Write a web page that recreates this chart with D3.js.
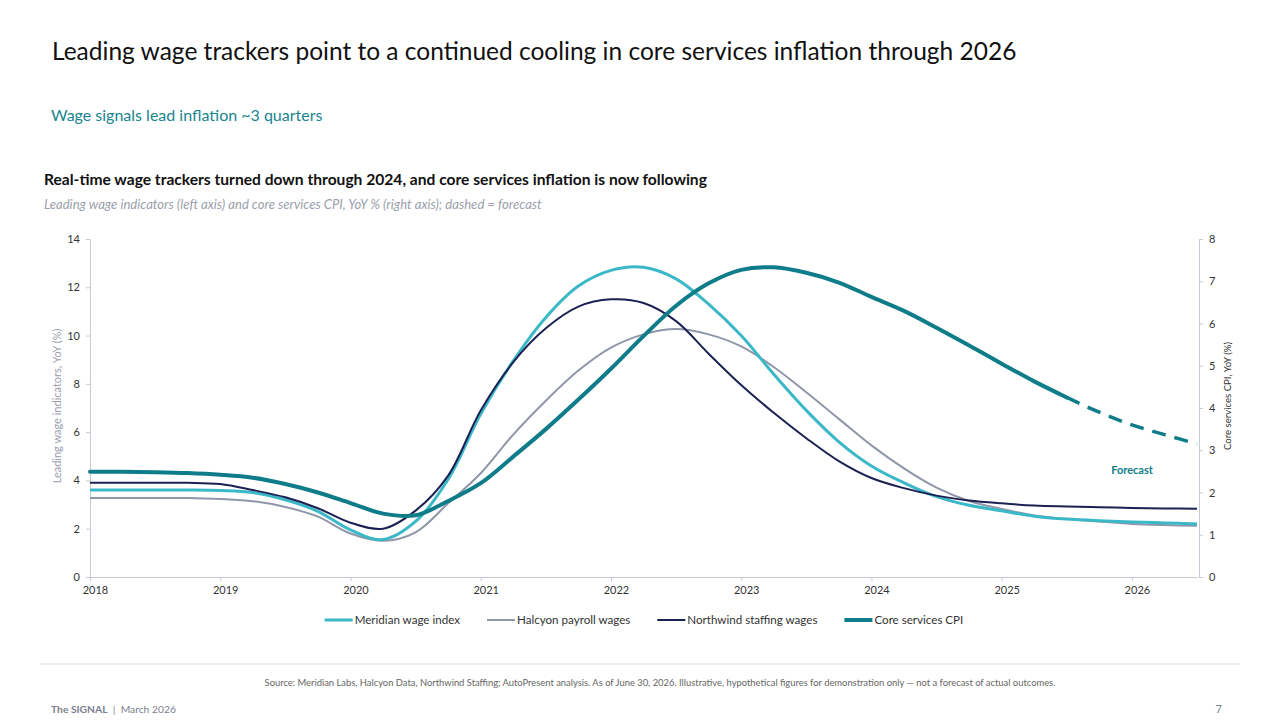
<!DOCTYPE html>
<html>
<head>
<meta charset="utf-8">
<script src="https://cdn.jsdelivr.net/npm/d3@7"></script>
<style>
  body { margin: 0; background: #fff; }
  svg { display: block; font-family: Lato, "Open Sans", sans-serif; }
</style>
</head>
<body>
<div id="chart"></div>
<script>
// quarterly time points 2018 .. 2026.5
const quarters = d3.range(0, 35).map(i => 2018 + i * 0.25);

const meridian = [3.6, 3.6, 3.6, 3.6, 3.58, 3.5, 3.2, 2.72, 1.95, 1.55, 2.3, 4.05, 6.75, 8.95, 10.75, 12.05,
  12.7, 12.83, 12.35, 11.3, 10.0, 8.4, 6.9, 5.6, 4.6, 3.9, 3.33, 2.97, 2.74, 2.52, 2.4, 2.33, 2.28, 2.24, 2.2];
const halcyon = [3.27, 3.27, 3.27, 3.27, 3.23, 3.14, 2.9, 2.5, 1.8, 1.5, 1.85, 3.05, 4.3, 5.9, 7.3, 8.55,
  9.5, 10.05, 10.27, 10.05, 9.55, 8.7, 7.65, 6.55, 5.45, 4.5, 3.7, 3.15, 2.82, 2.55, 2.4, 2.3, 2.2, 2.15, 2.12];
const northwind = [3.9, 3.9, 3.9, 3.9, 3.85, 3.6, 3.3, 2.85, 2.25, 2.0, 2.75, 4.2, 6.9, 8.9, 10.3, 11.2,
  11.5, 11.35, 10.6, 9.25, 7.95, 6.8, 5.75, 4.8, 4.1, 3.68, 3.37, 3.17, 3.05, 2.96, 2.92, 2.89, 2.86, 2.84, 2.83];
// core services CPI, right axis; from 2025.5 on it is forecast
const coreCPI = [2.49, 2.49, 2.48, 2.46, 2.42, 2.35, 2.2, 2.0, 1.75, 1.5, 1.46, 1.8, 2.22, 2.85, 3.5, 4.2,
  4.93, 5.7, 6.42, 6.95, 7.27, 7.33, 7.2, 6.97, 6.63, 6.3, 5.9, 5.48, 5.05, 4.63, 4.25, 3.9, 3.6, 3.37, 3.15];
const forecastStart = 2025.5;

const years = [2018, 2019, 2020, 2021, 2022, 2023, 2024, 2025, 2026];
const leftTicks = [0, 2, 4, 6, 8, 10, 12, 14];
const rightTicks = [0, 1, 2, 3, 4, 5, 6, 7, 8];

const seriesNames = ["Meridian wage index", "Halcyon payroll wages", "Northwind staffing wages", "Core services CPI"];
const colors = ["#3bb8c8", "#8f96a8", "#1b2152", "#0f7c8a"];
const widths = [3, 2, 2, 4];

const W = 1280, H = 720;
const svg = d3.select("#chart").append("svg").attr("width", W).attr("height", H);

// headings
svg.append("text").attr("x", 52).attr("y", 60).attr("font-size", 24.5).attr("fill", "#111")
  .text("Leading wage trackers point to a continued cooling in core services inflation through 2026");
svg.append("text").attr("x", 51).attr("y", 121).attr("font-size", 16).attr("fill", "#17858f")
  .text("Wage signals lead inflation ~3 quarters");
svg.append("text").attr("x", 44).attr("y", 185).attr("font-size", 15.6).attr("font-weight", "bold").attr("fill", "#111")
  .text("Real-time wage trackers turned down through 2024, and core services inflation is now following");
svg.append("text").attr("x", 44).attr("y", 209).attr("font-size", 13.1).attr("font-style", "italic").attr("fill", "#9aa0ac")
  .text("Leading wage indicators (left axis) and core services CPI, YoY % (right axis); dashed = forecast");

// scales
const x = d3.scaleLinear().domain([2018, 2026.5]).range([90, 1197]);
const yL = d3.scaleLinear().domain([0, 14]).range([577, 239]);
const yR = d3.scaleLinear().domain([0, 8]).range([577, 239]);

const axisColor = "#c5cad3";

const gx = svg.append("g").attr("transform", "translate(0,577)")
  .call(d3.axisBottom(x).tickValues(years).tickFormat(d3.format("d")).tickSize(4).tickSizeOuter(0));
gx.selectAll("text").attr("dx", 5).attr("dy", 10);

const gl = svg.append("g").attr("transform", "translate(90,0)")
  .call(d3.axisLeft(yL).tickValues(leftTicks).tickSize(4).tickSizeOuter(0));
gl.selectAll("text").attr("dx", -3);

const gr = svg.append("g").attr("transform", "translate(1199,0)")
  .call(d3.axisRight(yR).tickValues(rightTicks).tickSize(4).tickSizeOuter(0));
gr.selectAll("text").attr("dx", 3);

[gx, gl, gr].forEach(g => {
  g.select(".domain").attr("stroke", axisColor);
  g.selectAll(".tick line").attr("stroke", axisColor);
  g.selectAll("text").attr("fill", "#333").attr("font-size", 11).attr("font-family", "Lato, 'Open Sans', sans-serif");
});

svg.append("text").attr("transform", "translate(61,406) rotate(-90)").attr("text-anchor", "middle")
  .attr("font-size", 11).attr("fill", "#9aa0ac").text("Leading wage indicators, YoY (%)");
svg.append("text").attr("transform", "translate(1231,396) rotate(-90)").attr("text-anchor", "middle")
  .attr("font-size", 9.6).attr("fill", "#333").text("Core services CPI, YoY (%)");

// lines
const wageLine = d3.line().x(d => x(d[0])).y(d => yL(d[1])).curve(d3.curveCatmullRom.alpha(0.5));
const cpiLine = d3.line().x(d => x(d[0])).y(d => yR(d[1])).curve(d3.curveCatmullRom.alpha(0.5));

const plotOrder = [halcyon, meridian, northwind];
const plotIdx = [1, 0, 2];
plotOrder.forEach((vals, k) => {
  const i = plotIdx[k];
  svg.append("path").datum(quarters.map((q, j) => [q, vals[j]]))
    .attr("fill", "none").attr("stroke", colors[i]).attr("stroke-width", widths[i])
    .attr("d", wageLine);
});

const cpiData = quarters.map((q, j) => [q, coreCPI[j]]);
svg.append("path").datum(cpiData.filter(d => d[0] <= forecastStart))
  .attr("fill", "none").attr("stroke", colors[3]).attr("stroke-width", widths[3])
  .attr("stroke-linecap", "round").attr("d", cpiLine);
svg.append("path").datum(cpiData.filter(d => d[0] >= forecastStart))
  .attr("fill", "none").attr("stroke", colors[3]).attr("stroke-width", 3.5)
  .attr("stroke-dasharray", "14 9").attr("d", cpiLine);

svg.append("text").attr("x", 1132).attr("y", 474).attr("text-anchor", "middle")
  .attr("font-size", 11).attr("font-weight", "bold").attr("fill", "#0f7c8a").text("Forecast");

// legend
const legend = svg.append("g").attr("transform", "translate(0,620)");
let lx = 0;
seriesNames.forEach((name, i) => {
  const g = legend.append("g").attr("transform", `translate(${lx},0)`);
  g.append("line").attr("x1", 0).attr("x2", 28).attr("y1", 0).attr("y2", 0)
    .attr("stroke", colors[i]).attr("stroke-width", widths[i]);
  const t = g.append("text").attr("x", 30).attr("y", 4).attr("font-size", 11.6).attr("fill", "#333").text(name);
  lx += 30 + t.node().getComputedTextLength() + 27;
});
const legendW = lx - 27;
legend.attr("transform", `translate(${644 - legendW / 2},620)`);

// footer
svg.append("line").attr("x1", 40).attr("x2", 1240).attr("y1", 664).attr("y2", 664)
  .attr("stroke", "#d9dce2").attr("stroke-width", 1);
svg.append("text").attr("x", 660).attr("y", 686).attr("text-anchor", "middle").attr("font-size", 9.4).attr("fill", "#666")
  .text("Source: Meridian Labs, Halcyon Data, Northwind Staffing; AutoPresent analysis. As of June 30, 2026. Illustrative, hypothetical figures for demonstration only \u2014 not a forecast of actual outcomes.");
const foot = svg.append("text").attr("x", 51).attr("y", 713).attr("font-size", 10.3).attr("fill", "#7a8090")
  .attr("xml:space", "preserve").style("white-space", "pre");
foot.append("tspan").attr("font-weight", "bold").text("The SIGNAL");
foot.append("tspan").text("  |  March 2026");
svg.append("text").attr("x", 1222).attr("y", 713).attr("text-anchor", "end").attr("font-size", 11).attr("fill", "#7a8090").text("7");
</script>
</body>
</html>
